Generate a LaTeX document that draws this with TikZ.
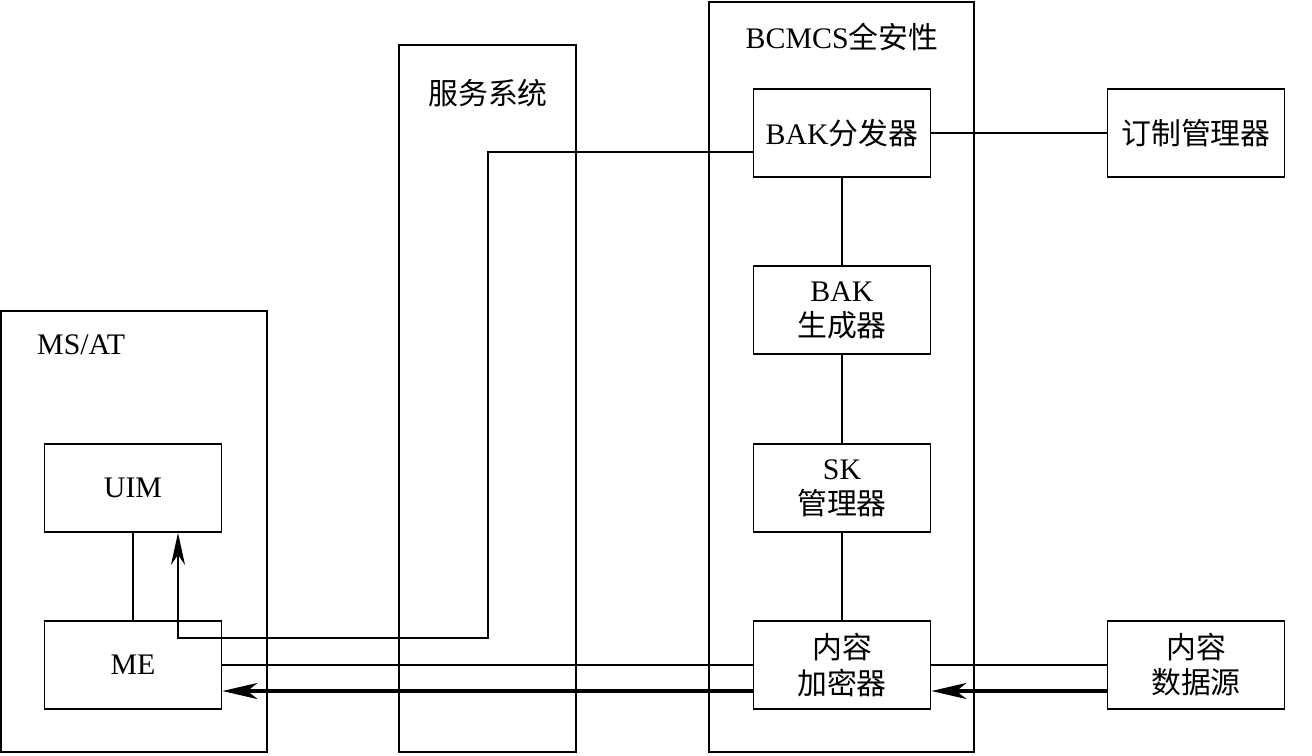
\documentclass[tikz,border=0pt]{standalone}
\usepackage{fontspec}
\setmainfont{Liberation Serif}
\newfontfamily\cjk{Noto Sans CJK SC}
\usetikzlibrary{arrows.meta,calc}
\tikzset{
  blk/.style={draw, line width=1pt, minimum width=3.54cm, minimum height=1.76cm, align=center, inner sep=0pt},
  lnk/.style={line width=1pt},
  flow/.style={line width=2.2pt, -{Stealth[length=0.7cm,width=0.32cm,inset=0.2cm]}},
  tip/.style={line width=1pt, -{Stealth[length=0.64cm,width=0.28cm,inset=0.2cm]}}
}
\begin{document}
\begin{tikzpicture}[x=0.02cm, y=-0.02cm, font=\fontsize{17}{20}\selectfont]
	\useasboundingbox (0,0) rectangle (1312,755);
	% Containers
	\draw[lnk] (1,311) rectangle (267,752);
	\node[anchor=west] (msat) at (31,345) {MS/AT};
	\draw[lnk] (399,45) rectangle (576,752);
	\node (svc) at (488,93) {\cjk 服务系统};
	\draw[lnk] (709,2) rectangle (974,752);
	\node (bcmcs) at (842,37) {BCMCS{\cjk 全安性}};
	% Terminal
	\node[blk] (uim) at (133,488) {UIM};
	\node[blk] (me) at (133,665) {ME};
	% BCMCS
	\node[blk] (bakd) at (842,133) {BAK{\cjk 分发器}};
	\node[blk] (bakg) at (842,310) {BAK\\{\cjk 生成器}};
	\node[blk] (skm) at (842,488) {SK\\{\cjk 管理器}};
	\node[blk] (enc) at (842,665) {{\cjk 内容}\\{\cjk 加密器}};
	% Outside
	\node[blk] (sub) at (1196,133) {\cjk 订制管理器};
	\node[blk] (src) at (1196,665) {{\cjk 内容}\\{\cjk 数据源}};
	% Links
	\draw[lnk] (uim) -- (me);
	\draw[lnk] (bakd) -- (bakg);
	\draw[lnk] (bakg) -- (skm);
	\draw[lnk] (skm) -- (enc);
	\draw[lnk] (bakd) -- (sub);
	\draw[lnk] (me) -- (enc);
	\draw[lnk] (src) -- (enc);
	\coordinate (bend) at (488,638);
	\draw[tip] ($(bakd.west)+(0,19)$) -| (bend) -| ($(uim.south)+(45,0)$);
	\draw[flow] ($(enc.west)+(0,26)$) -- ($(me.east)+(0,26)$);
	\draw[flow] ($(src.west)+(0,26)$) -- ($(enc.east)+(0,26)$);
\end{tikzpicture}
\end{document}
